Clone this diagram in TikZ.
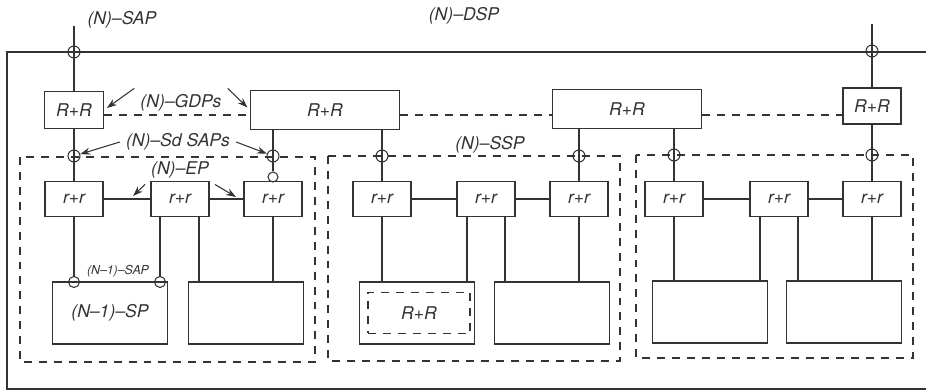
\documentclass[tikz,border=0pt]{standalone}
\usepackage{fontspec}
\setmainfont{TeX Gyre Heros}
\usetikzlibrary{arrows.meta}
\definecolor{ink}{HTML}{333333}

\begin{document}
\begin{tikzpicture}[x=0.02cm, y=-0.02cm,
    every node/.style={font=\itshape, text=ink},
    wire/.style={draw=ink, line width=0.6pt},
    dashline/.style={draw=ink, line width=0.6pt, dash pattern=on 4.5pt off 4pt},
    bigbox/.style={wire, minimum width=2.98cm, minimum height=0.78cm},
    rrbox/.style={wire, minimum width=1.18cm, minimum height=0.74cm},
    relbox/.style={wire, minimum width=1.16cm, minimum height=0.7cm},
    spbox/.style={wire, minimum width=2.3cm, minimum height=1.24cm},
    sap/.style={circle, wire, minimum size=0.24cm, inner sep=0pt},
    arrow/.style={-{Stealth[length=2mm, width=1.4mm]}, wire}
]
\useasboundingbox (0,0) rectangle (926,391);

% outer frame of the (N)-DSP
\draw[wire] (926,52) -- (7,52) -- (7,389) -- (926,389);

% (N)-SSP areas
\draw[dashline] (20,157) rectangle (315,362);
\draw[dashline] (328,156) rectangle (620,361);
\draw[dashline] (636,155) rectangle (913,358);

% R+R entities
\node[rrbox] (R1) at (74,110) {R+R};
\node[bigbox] (R2) at (325,110) {R+R};
\node[bigbox] (R3) at (627,109) {R+R};
\node[rrbox, minimum width=1.16cm, minimum height=0.72cm] (R4) at (872,106) {R+R};

% r+r entities
\node[relbox] (r1) at (74,199) {r+r};
\node[relbox] (r2) at (180,199) {r+r};
\node[relbox] (r3) at (273,199) {r+r};
\node[relbox] (r4) at (382,199) {r+r};
\node[relbox] (r5) at (486,199) {r+r};
\node[relbox] (r6) at (579,199) {r+r};
\node[relbox] (r7) at (674,199) {r+r};
\node[relbox] (r8) at (779,199) {r+r};
\node[relbox] (r9) at (872,199) {r+r};

% (N-1) service providers
\node[spbox] (A) at (110,313) {(N--1)--SP};
\node[spbox] (B) at (246,313) {};
\node[spbox] (C) at (417,313) {};
\node[spbox] (D) at (552,313) {};
\node[spbox] (E) at (710,312) {};
\node[spbox] (F) at (844,312) {};
\node[dashline, minimum width=2.04cm, minimum height=0.82cm] (Cin) at (419,313) {R+R};

% access points
\node[sap] (t1) at (74,52) {};
\node[sap] (t2) at (872,51) {};
\node[sap] (s1) at (74,156) {};
\node[sap] (s2) at (273,156) {};
\node[sap] (s3) at (382,156) {};
\node[sap] (s4) at (579,156) {};
\node[sap] (s5) at (674,155) {};
\node[sap] (s6) at (872,155) {};
\node[sap, minimum size=0.2cm] (e1) at (273,177) {};
\node[sap, minimum size=0.22cm] (a1) at (74,282) {};
\node[sap, minimum size=0.22cm] (a2) at (160,282) {};

\coordinate (sapN) at (74,26);
\coordinate (sapE) at (872,24);
\coordinate (gdp) at (0,115);

% vertical links
\draw[wire] (sapN) -- (R1.north);
\draw[wire] (sapE) -- (R4.north);
\draw[wire] (R1.south) -- (r1.north);
\draw[wire] (R2.south -| s2) -- (e1.north);
\draw[wire] (R2.south -| s3) -- (r4.north);
\draw[wire] (R3.south -| s4) -- (r6.north);
\draw[wire] (R3.south -| s5) -- (r7.north);
\draw[wire] (R4.south) -- (r9.north);
\draw[wire] (r1.south) -- (a1.north);
\draw[wire] (r2.south -| a2) -- (a2.north);
\foreach \u/\l/\d in {r2/B/0.38, r3/B/0, r4/C/0, r5/C/-0.38, r5/D/0.38, r6/D/0, r7/E/0, r8/E/-0.38, r8/F/0.38, r9/F/0} {
  \path ([xshift=\d cm]\u.south) coordinate (up);
  \draw[wire] (up) -- (up |- \l.north);
}

% horizontal links
\draw[wire] (r1) -- (r2) -- (r3);
\draw[wire] (r4) -- (r5) -- (r6);
\draw[wire] (r7) -- (r8) -- (r9);
\draw[dashline] (R1.east |- gdp) -- (R2.west |- gdp);
\draw[dashline] (R2.east |- gdp) -- (R3.west |- gdp);
\draw[dashline] (R3.east |- gdp) -- (R4.west |- gdp);

% labels
\node (sapl) at (122,20) {(N)--SAP};
\node (dspl) at (464,16) {(N)--DSP};
\node (gdpl) at (181,103) {(N)--GDPs};
\node (sdl) at (178,142) {(N)--Sd SAPs};
\node (sspl) at (490,145) {(N)--SSP};
\node (epl) at (180,170) {(N)--EP};
\node[font=\scriptsize\itshape] (sap1l) at (118,271) {(N--1)--SAP};

\coordinate (ep1) at (133,196);
\coordinate (ep2) at (236,197);
\draw[arrow, shorten >=2pt] (gdpl.north west) -- (R1.east);
\draw[arrow, shorten >=2pt] (gdpl.north east) -- (R2.west);
\draw[arrow] (sdl.west) -- (s1);
\draw[arrow] (sdl.east) -- (s2);
\draw[arrow] (epl.south west) -- (ep1);
\draw[arrow] (epl.south east) -- (ep2);
\end{tikzpicture}
\end{document}
